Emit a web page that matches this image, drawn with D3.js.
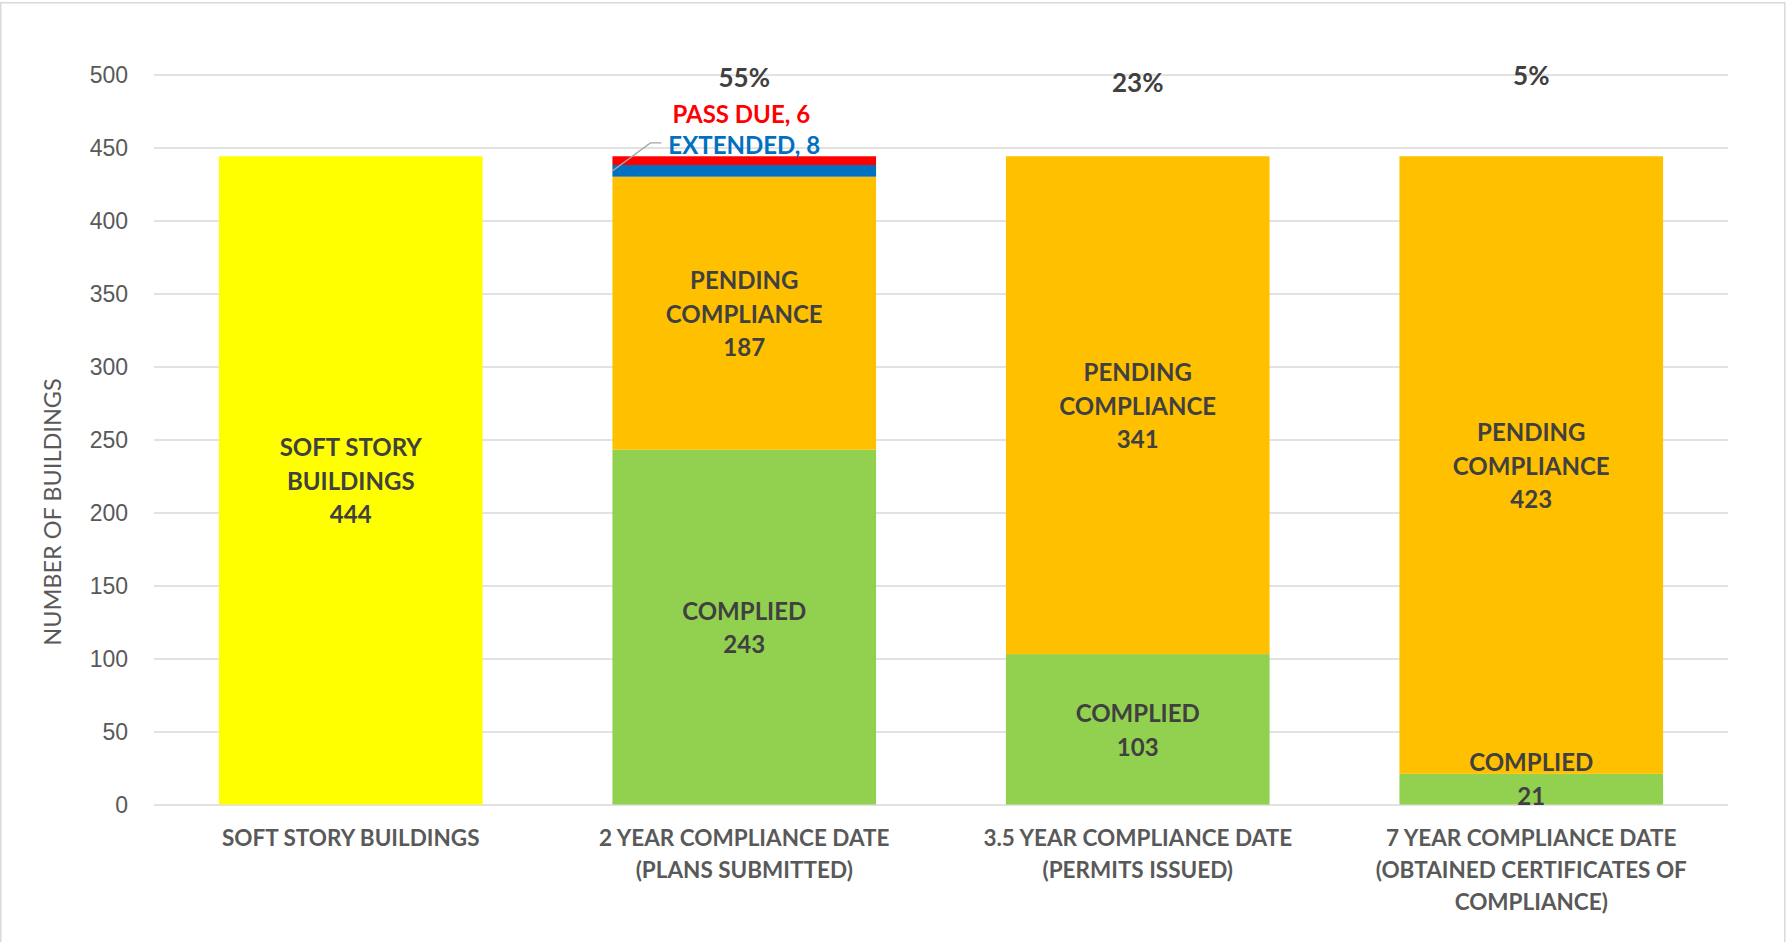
<!DOCTYPE html>
<html>
<head>
<meta charset="utf-8">
<script src="https://cdn.jsdelivr.net/npm/d3@7"></script>
<style>
  body { margin: 0; background: #fff; }
  svg { display: block; font-family: Lato, "Open Sans", sans-serif; }
  .grid line { stroke: #d9d9d9; stroke-width: 1.5; }
  .grid .domain { display: none; }
  .ytick text { fill: #595959; font-size: 23px; }
  .seglabel { fill: #404040; font-weight: bold; font-size: 24px; }
  .catlabel { fill: #595959; font-weight: bold; font-size: 22.5px; }
</style>
</head>
<body>
<svg id="graph" width="1786" height="942"></svg>
<script>
var margin = { top: 74.5, right: 58, bottom: 137.5, left: 154 }
var W = 1786, H = 942

// data
var categories = ["c1", "c2", "c3", "c4"]
var catLines = [
    ["SOFT STORY BUILDINGS"],
    ["2 YEAR COMPLIANCE DATE", "(PLANS SUBMITTED)"],
    ["3.5 YEAR COMPLIANCE DATE", "(PERMITS ISSUED)"],
    ["7 YEAR COMPLIANCE DATE", "(OBTAINED CERTIFICATES OF", "COMPLIANCE)"]
]
var softStory = [444, 0, 0, 0]
var complied = [0, 243, 103, 21]
var pending = [0, 187, 341, 423]
var extended = [0, 8, 0, 0]
var passDue = [0, 6, 0, 0]
var pctLabels = ["", "55%", "23%", "5%"]
var pctLabelAt = [null, 498.6, 495, 500]
var yTicks = [0, 50, 100, 150, 200, 250, 300, 350, 400, 450, 500]

var keys = ["softStory", "complied", "pending", "extended", "passDue"]
var colors = {
    softStory: "#ffff00",
    complied: "#92d050",
    pending: "#ffc000",
    extended: "#0070c0",
    passDue: "#ff0000"
}
var segNames = {
    softStory: ["SOFT STORY", "BUILDINGS"],
    complied: ["COMPLIED"],
    pending: ["PENDING", "COMPLIANCE"]
}

var rows = categories.map((c, i) => ({
    cat: c,
    softStory: softStory[i],
    complied: complied[i],
    pending: pending[i],
    extended: extended[i],
    passDue: passDue[i]
}))

var width = W - margin.left - margin.right
var height = H - margin.top - margin.bottom

var root = d3.select("#graph")
root.append("rect")
    .attr("x", 0.75).attr("y", 2.75)
    .attr("width", W - 2).attr("height", H + 20)
    .attr("fill", "none").attr("stroke", "#d9d9d9").attr("stroke-width", 1.5)

var svg = root.append("g")
    .attr("transform", "translate(" + margin.left + "," + margin.top + ")")

var xScale = d3.scaleBand().domain(categories).range([0, width]).paddingInner(0.33).paddingOuter(0.165)
var yScale = d3.scaleLinear().domain([0, 500]).range([height, 0])

// gridlines
svg.append("g")
    .attr("class", "grid")
    .call(d3.axisLeft(yScale).tickValues(yTicks).tickSize(-width).tickFormat(""))

// tick labels
svg.append("g")
    .attr("class", "ytick")
    .attr("transform", "translate(-23,0)")
    .call(d3.axisLeft(yScale).tickValues(yTicks).tickSize(0))
    .call(g => g.select(".domain").remove())
    .selectAll("text").attr("dy", "0.35em")

// y title
svg.append("text")
    .attr("transform", "translate(" + (52 - margin.left) + "," + (512 - margin.top) + ") rotate(-90)")
    .attr("text-anchor", "middle")
    .attr("dominant-baseline", "central")
    .attr("fill", "#595959")
    .style("font-size", "23.5px")
    .text("NUMBER OF BUILDINGS")

var series = d3.stack().keys(keys)(rows)

series.forEach(s => {
    svg.append("g")
        .attr("fill", colors[s.key])
        .selectAll("rect")
        .data(s.filter(d => d[1] > d[0]))
        .enter().append("rect")
        .attr("x", d => xScale(d.data.cat))
        .attr("y", d => yScale(d[1]))
        .attr("width", xScale.bandwidth())
        .attr("height", d => yScale(d[0]) - yScale(d[1]))
})

// segment labels
var lh = 33.5
series.forEach(s => {
    if (!segNames[s.key]) return
    s.forEach(d => {
        var v = d[1] - d[0]
        if (v <= 0) return
        var lines = segNames[s.key].concat([String(v)])
        var cx = xScale(d.data.cat) + xScale.bandwidth() / 2
        var cy = Math.min(yScale((d[0] + d[1]) / 2), yScale(0) - 26)
        var t = svg.append("text")
            .attr("class", "seglabel")
            .attr("text-anchor", "middle")
        lines.forEach((ln, j) => {
            t.append("tspan")
                .attr("x", cx)
                .attr("y", cy + (j - (lines.length - 1) / 2) * lh)
                .attr("dominant-baseline", "central")
                .text(ln)
        })
    })
})

// extended / pass due callouts
var i2 = 1
var c2 = categories[i2]
var extMid = complied[i2] + pending[i2] + extended[i2] / 2
var lx = xScale(c2)
svg.append("path")
    .attr("d", d3.line()([
        [lx, yScale(extMid)],
        [lx + 38, yScale(extMid) - 28],
        [lx + 49, yScale(extMid) - 28]
    ]))
    .attr("fill", "none")
    .attr("stroke", "#a6a6a6")
    .attr("stroke-width", 1.3)

svg.append("text")
    .attr("x", xScale(c2) + xScale.bandwidth() / 2)
    .attr("y", yScale(extMid) - 26)
    .attr("text-anchor", "middle")
    .attr("dominant-baseline", "central")
    .attr("fill", "#0070c0")
    .style("font-weight", "bold").style("font-size", "24px")
    .text("EXTENDED, " + extended[i2])

svg.append("text")
    .attr("x", xScale(c2) + xScale.bandwidth() / 2 - 3)
    .attr("y", yScale(extMid) - 57)
    .attr("text-anchor", "middle")
    .attr("dominant-baseline", "central")
    .attr("fill", "#ff0000")
    .style("font-weight", "bold").style("font-size", "24px")
    .text("PASS DUE, " + passDue[i2])

// percentage labels
categories.forEach((c, i) => {
    if (!pctLabels[i]) return
    svg.append("text")
        .attr("x", xScale(c) + xScale.bandwidth() / 2)
        .attr("y", yScale(pctLabelAt[i]))
        .attr("text-anchor", "middle")
        .attr("dominant-baseline", "central")
        .attr("fill", "#404040")
        .style("font-weight", "bold").style("font-size", "26px")
        .text(pctLabels[i])
})

// category labels
categories.forEach((c, i) => {
    var t = svg.append("text")
        .attr("class", "catlabel")
        .attr("text-anchor", "middle")
    catLines[i].forEach((ln, j) => {
        t.append("tspan")
            .attr("x", xScale(c) + xScale.bandwidth() / 2)
            .attr("y", height + 32.5 + j * 32)
            .attr("dominant-baseline", "central")
            .text(ln)
    })
})
</script>
</body>
</html>
